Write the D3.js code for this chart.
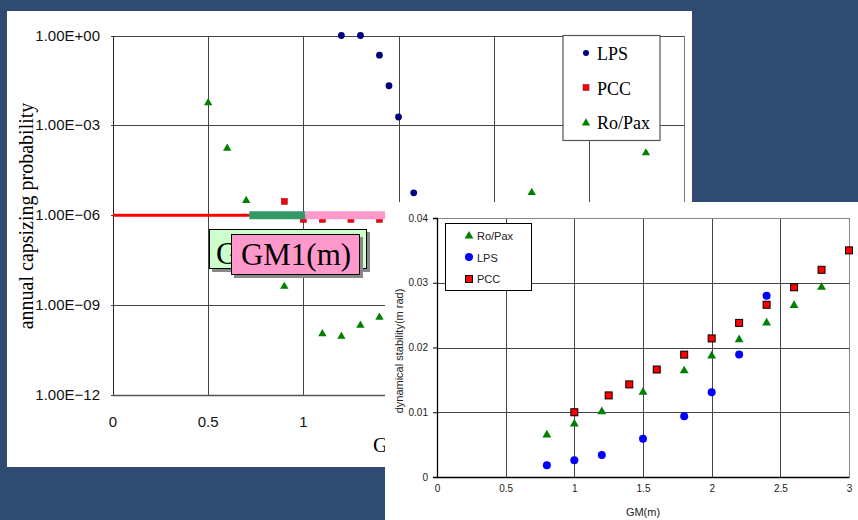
<!DOCTYPE html>
<meta charset="utf-8">
<style>
    body { margin: 0; }
    svg { display: block; }
    .grid line { stroke: #444; stroke-width: 1; shape-rendering: crispEdges; }
    .tick-l { font-family: "Liberation Sans", Arial, sans-serif; font-size: 15px; fill: #111; }
    .tick-r { font-family: "Liberation Sans", Arial, sans-serif; font-size: 10px; fill: #222; }
    .serif { font-family: "Liberation Serif", "Times New Roman", serif; fill: #000; }
</style>
<svg width="858" height="520"></svg>
<script src="https://cdn.jsdelivr.net/npm/d3@7"></script>
<script>

    // ---- left chart: annual capsizing probability vs GM ----
    var gmTicks = [0, 0.5, 1, 1.5, 2, 2.5, 3];
    var probTicks = [1, 1e-3, 1e-6, 1e-9, 1e-12];
    var probTickLabels = ["1.00E+00", "1.00E\u221203", "1.00E\u221206", "1.00E\u221209", "1.00E\u221212"];

    var lpsProbGM = [1.2, 1.3, 1.4, 1.45, 1.5, 1.58];
    var lpsProb = [1.0, 1.0, 0.22, 0.021, 1.9e-3, 5.6e-6];

    var pccProbGM = [0.9, 1.0, 1.1, 1.25, 1.4];
    var pccProb = [2.9e-6, 7.3e-7, 7.3e-7, 7.3e-7, 7.3e-7];

    var roPaxProbGM = [0.5, 0.6, 0.7, 0.9, 1.1, 1.2, 1.3, 1.4, 2.2, 2.8];
    var roPaxProb = [5.7e-3, 1.7e-4, 3.1e-6, 4.2e-9, 1.1e-10, 9e-11, 2.1e-10, 3.9e-10, 5.7e-6, 1.2e-4];

    // criterion line and GM ranges (GM start, GM end) at prob 1e-6
    var criterionProb = 1e-6;
    var criterionRange = [0, 0.716];
    var gm0Range = [0.716, 1.01];
    var gm1Range = [1.01, 1.5];

    // ---- right chart: dynamical stability vs GM ----
    var stabTicks = [0, 0.01, 0.02, 0.03, 0.04];

    var roPaxGM = [0.8, 1.0, 1.2, 1.5, 1.8, 2.0, 2.2, 2.4, 2.6, 2.8];
    var roPaxStab = [0.0065, 0.0082, 0.0101, 0.0131, 0.0164, 0.0187, 0.0212, 0.0238, 0.0265, 0.0293];

    var lpsGM = [0.8, 1.0, 1.2, 1.5, 1.8, 2.0, 2.2, 2.4];
    var lpsStab = [0.0018, 0.0026, 0.0034, 0.0059, 0.0094, 0.0131, 0.0189, 0.0280];

    var pccGM = [1.0, 1.25, 1.4, 1.6, 1.8, 2.0, 2.2, 2.4, 2.6, 2.8, 3.0];
    var pccStab = [0.0100, 0.0126, 0.0143, 0.0166, 0.0189, 0.0214, 0.0238, 0.0266, 0.0293, 0.0320, 0.0350];

    var svg = d3.select("svg");

    svg.append("rect").attr("width", 858).attr("height", 520).attr("fill", "#2f4b72");

    // ================= left panel =================
    svg.append("rect")
        .attr("x", 7).attr("y", 11).attr("width", 685).attr("height", 456)
        .attr("fill", "#fff");

    var xL = d3.scaleLinear().domain([0, 3]).range([113, 684]),
        yL = d3.scaleLog().domain([1e-12, 1]).range([395, 35.5]);

    var gl = svg.append("g");

    gl.append("g").attr("class", "grid")
        .selectAll("line").data(gmTicks.slice(1, -1))
        .enter().append("line")
        .attr("x1", function(d) { return Math.round(xL(d)) + 0.5; })
        .attr("x2", function(d) { return Math.round(xL(d)) + 0.5; })
        .attr("y1", yL(1)).attr("y2", yL(1e-12));

    gl.append("g").attr("class", "grid")
        .selectAll("line").data(probTicks)
        .enter().append("line")
        .attr("x1", xL(0) - 2).attr("x2", xL(3))
        .attr("y1", function(d) { return Math.round(yL(d)) + 0.5; })
        .attr("y2", function(d) { return Math.round(yL(d)) + 0.5; });

    // frame
    gl.append("line").attr("x1", Math.round(xL(0)) + 0.5).attr("x2", Math.round(xL(0)) + 0.5)
        .attr("y1", yL(1)).attr("y2", yL(1e-12)).attr("stroke", "#222").attr("shape-rendering", "crispEdges");
    gl.append("line").attr("x1", Math.round(xL(3)) + 0.5).attr("x2", Math.round(xL(3)) + 0.5)
        .attr("y1", yL(1)).attr("y2", yL(1e-12)).attr("stroke", "#777").attr("shape-rendering", "crispEdges");
    gl.append("line").attr("x1", xL(0)).attr("x2", xL(3))
        .attr("y1", Math.round(yL(1e-12)) + 0.5).attr("y2", Math.round(yL(1e-12)) + 0.5)
        .attr("stroke", "#555").attr("stroke-width", 1.5);

    gl.selectAll(".ylab").data(probTicks)
        .enter().append("text")
        .attr("class", "tick-l")
        .attr("x", 100).attr("y", function(d) { return yL(d) + 5; })
        .attr("text-anchor", "end")
        .text(function(d, i) { return probTickLabels[i]; });

    gl.selectAll(".xlab").data(gmTicks)
        .enter().append("text")
        .attr("class", "tick-l")
        .attr("x", function(d) { return xL(d); }).attr("y", 427)
        .attr("text-anchor", "middle")
        .text(function(d) { return d; });

    gl.append("text").attr("class", "serif")
        .attr("transform", "translate(33,216) rotate(-90)")
        .attr("text-anchor", "middle")
        .style("font-size", "20px")
        .text("annual capsizing probability");

    gl.append("text").attr("class", "serif")
        .attr("x", 373).attr("y", 452)
        .style("font-size", "21px")
        .text("GM(m)");

    // PCC squares (under bars)
    gl.selectAll(".pccL").data(pccProbGM)
        .enter().append("rect")
        .attr("x", function(d) { return xL(d) - 3; })
        .attr("y", function(d, i) { return yL(pccProb[i]) - 3; })
        .attr("width", 6).attr("height", 6)
        .attr("fill", "#ff0000").attr("stroke", "#8a1a3a").attr("stroke-width", 0.6);

    // criterion line + GM ranges
    gl.append("rect")
        .attr("x", xL(criterionRange[0])).attr("width", xL(criterionRange[1]) - xL(criterionRange[0]))
        .attr("y", yL(criterionProb) - 1.5).attr("height", 3)
        .attr("fill", "#ff0000");
    gl.append("rect")
        .attr("x", xL(gm0Range[0])).attr("width", xL(gm0Range[1]) - xL(gm0Range[0]))
        .attr("y", yL(criterionProb) - 4).attr("height", 8)
        .attr("fill", "#339966");
    gl.append("rect")
        .attr("x", xL(gm1Range[0])).attr("width", xL(gm1Range[1]) - xL(gm1Range[0]))
        .attr("y", yL(criterionProb) - 4).attr("height", 8)
        .attr("fill", "#ff99cc");

    gl.selectAll(".lpsL").data(lpsProbGM)
        .enter().append("circle")
        .attr("cx", function(d) { return xL(d); })
        .attr("cy", function(d, i) { return yL(lpsProb[i]); })
        .attr("r", 3.4)
        .attr("fill", "#000080");

    var triL = d3.symbol().type(d3.symbolTriangle).size(30);
    gl.selectAll(".roL").data(roPaxProbGM)
        .enter().append("path")
        .attr("d", triL)
        .attr("transform", function(d, i) { return "translate(" + xL(d) + "," + yL(roPaxProb[i]) + ")"; })
        .attr("fill", "#008000");

    // callout boxes (green one mostly hidden behind the pink one)
    gl.append("rect").attr("x", 212).attr("y", 232).attr("width", 158).attr("height", 40).attr("fill", "#888");
    gl.append("rect").attr("x", 209.5).attr("y", 229.5).attr("width", 157).attr("height", 39)
        .attr("fill", "#ccffcc").attr("stroke", "#000").attr("stroke-width", 1);
    gl.append("text").attr("class", "serif")
        .attr("x", 216).attr("y", 264).style("font-size", "31px")
        .text("G");
    gl.append("rect").attr("x", 234).attr("y", 237).attr("width", 129).attr("height", 41).attr("fill", "#888");
    gl.append("rect").attr("x", 231.5).attr("y", 234.5).attr("width", 128).attr("height", 40)
        .attr("fill", "#ff99cc").attr("stroke", "#000").attr("stroke-width", 1);
    gl.append("text").attr("class", "serif")
        .attr("x", 296).attr("y", 265).attr("text-anchor", "middle").style("font-size", "31px")
        .text("GM1(m)");

    // left legend
    var lg = gl.append("g");
    lg.append("rect").attr("x", 563).attr("y", 35.5).attr("width", 97).attr("height", 105)
        .attr("fill", "#fff").attr("stroke", "#555").attr("stroke-width", 1.2);
    lg.append("circle").attr("cx", 586).attr("cy", 53).attr("r", 3).attr("fill", "#000080");
    lg.append("rect").attr("x", 583).attr("y", 84.5).attr("width", 6).attr("height", 6).attr("fill", "#ff0000")
        .attr("stroke", "#8a1a3a").attr("stroke-width", 0.6);
    lg.append("path").attr("d", triL).attr("transform", "translate(586,123)").attr("fill", "#008000");
    var legNamesL = ["LPS", "PCC", "Ro/Pax"];
    lg.selectAll("text").data(legNamesL)
        .enter().append("text").attr("class", "serif")
        .attr("x", 597).attr("y", function(d, i) { return 60 + i * 34.5; })
        .style("font-size", "18px")
        .text(function(d) { return d; });

    // ================= right panel =================
    svg.append("rect")
        .attr("x", 385).attr("y", 202).attr("width", 473).attr("height", 318)
        .attr("fill", "#fff");

    var xR = d3.scaleLinear().domain([0, 3]).range([437, 849]),
        yR = d3.scaleLinear().domain([0, 0.04]).range([477, 218]);

    var gr = svg.append("g");

    gr.append("g").attr("class", "grid")
        .selectAll("line").data(gmTicks.slice(1, -1))
        .enter().append("line")
        .attr("x1", function(d) { return Math.round(xR(d)) + 0.5; })
        .attr("x2", function(d) { return Math.round(xR(d)) + 0.5; })
        .attr("y1", yR(0.04)).attr("y2", yR(0))
        .attr("stroke", "#333");

    gr.append("g").attr("class", "grid")
        .selectAll("line").data(stabTicks.slice(1, -1))
        .enter().append("line")
        .attr("x1", xR(0)).attr("x2", xR(3))
        .attr("y1", function(d) { return Math.round(yR(d)) + 0.5; })
        .attr("y2", function(d) { return Math.round(yR(d)) + 0.5; })
        .attr("stroke", "#333");

    // frame: top / right gray, left / bottom black
    gr.append("line").attr("x1", xR(0)).attr("x2", xR(3))
        .attr("y1", Math.round(yR(0.04)) + 0.5).attr("y2", Math.round(yR(0.04)) + 0.5)
        .attr("stroke", "#888").attr("shape-rendering", "crispEdges");
    gr.append("line").attr("x1", Math.round(xR(3)) + 0.5).attr("x2", Math.round(xR(3)) + 0.5)
        .attr("y1", yR(0.04)).attr("y2", yR(0))
        .attr("stroke", "#888").attr("shape-rendering", "crispEdges");

    var yAxisR = gr.append("g")
        .attr("transform", "translate(" + xR(0) + ",0)")
        .call(d3.axisLeft(yR).tickValues(stabTicks).tickSize(4).tickFormat(function(d) { return d === 0 ? "0" : d3.format(".2f")(d); }));
    yAxisR.select(".domain").attr("stroke", "#000").attr("stroke-width", 1.3);
    yAxisR.selectAll(".tick line").attr("stroke", "#000");
    yAxisR.selectAll(".tick text").attr("class", "tick-r").attr("x", -9).attr("dy", "0.3em");

    var xAxisR = gr.append("g")
        .attr("transform", "translate(0," + yR(0) + ")")
        .call(d3.axisBottom(xR).tickValues(gmTicks).tickSize(0).tickFormat(function(d) { return d; }));
    xAxisR.select(".domain").attr("stroke", "#000").attr("stroke-width", 1.3);
    xAxisR.selectAll(".tick text").attr("class", "tick-r").attr("y", 12).attr("dy", "0.3em");

    gr.append("text").attr("class", "tick-r")
        .attr("x", 643).attr("y", 516).attr("text-anchor", "middle")
        .style("font-size", "11px")
        .text("GM(m)");

    gr.append("text").attr("class", "tick-r")
        .attr("transform", "translate(403,351) rotate(-90)")
        .attr("text-anchor", "middle")
        .style("font-size", "11px")
        .text("dynamical stability(m rad)");

    var triR = d3.symbol().type(d3.symbolTriangle).size(34);

    gr.selectAll(".roR").data(roPaxGM)
        .enter().append("path")
        .attr("d", triR)
        .attr("transform", function(d, i) { return "translate(" + xR(d) + "," + yR(roPaxStab[i]) + ")"; })
        .attr("fill", "#008000");

    gr.selectAll(".lpsR").data(lpsGM)
        .enter().append("circle")
        .attr("cx", function(d) { return xR(d); })
        .attr("cy", function(d, i) { return yR(lpsStab[i]); })
        .attr("r", 4)
        .attr("fill", "#0000ff");

    gr.selectAll(".pccR").data(pccGM)
        .enter().append("rect")
        .attr("x", function(d) { return xR(d) - 3.5; })
        .attr("y", function(d, i) { return yR(pccStab[i]) - 3.5; })
        .attr("width", 7).attr("height", 7)
        .attr("fill", "#ff0000").attr("stroke", "#000").attr("stroke-width", 1);

    // right legend
    var lgR = gr.append("g");
    lgR.append("rect").attr("x", 445.5).attr("y", 223.5).attr("width", 86).attr("height", 67)
        .attr("fill", "#fff").attr("stroke", "#000").attr("stroke-width", 1);
    lgR.append("path").attr("d", triR).attr("transform", "translate(469,236)").attr("fill", "#008000");
    lgR.append("circle").attr("cx", 469).attr("cy", 257).attr("r", 4).attr("fill", "#0000ff");
    lgR.append("rect").attr("x", 465.5).attr("y", 275.5).attr("width", 7).attr("height", 7)
        .attr("fill", "#ff0000").attr("stroke", "#000").attr("stroke-width", 1);
    var legNamesR = ["Ro/Pax", "LPS", "PCC"];
    lgR.selectAll("text").data(legNamesR)
        .enter().append("text").attr("class", "tick-r")
        .attr("x", 477).attr("y", function(d, i) { return 240 + i * 21.5; })
        .style("font-size", "11px")
        .text(function(d) { return d; });

</script>
